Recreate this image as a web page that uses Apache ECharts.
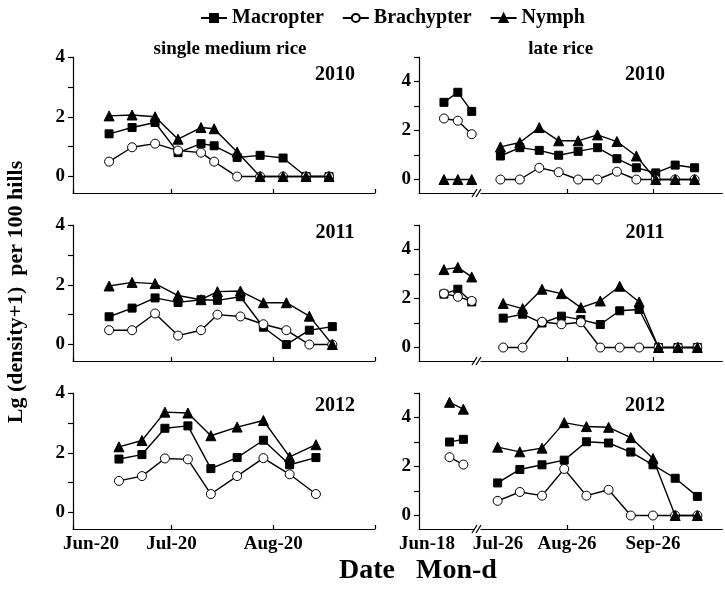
<!DOCTYPE html>
<html><head><meta charset="utf-8">
<script src="https://cdn.jsdelivr.net/npm/echarts@6/dist/echarts.min.js"></script>
<style>html,body{margin:0;padding:0;background:#fff}#c{width:725px;height:595px}</style>
</head><body><div id="c"></div>
<script>
// ---------------- DATA ----------------
const seriesNames = ['Macropter', 'Brachypter', 'Nymph'];
const years = ['2010', '2011', '2012'];
const panelTitles = ['single medium rice', 'late rice'];
const yAxisTitle = 'Lg (density+1)  per 100 hills';
const xAxisTitle = 'Date   Mon-d';

// single medium rice
const smDates2010 = ['07-01','07-08','07-15','07-22','07-29','08-02','08-09','08-16','08-23','08-30','09-06'];
const smMacropter2010 = [1.43,1.64,1.81,0.80,1.10,1.03,0.64,0.71,0.62,0,0];
const smBrachypter2010 = [0.50,0.98,1.10,0.87,0.80,0.50,0,0,0,0,0];
const smNymph2010 = [2.03,2.06,2.00,1.25,1.64,1.60,0.82,0,0,0,0];

const smDates2011 = ['07-01','07-08','07-15','07-22','07-29','08-03','08-10','08-17','08-24','08-31','09-07'];
const smMacropter2011 = [0.93,1.22,1.56,1.41,1.50,1.48,1.60,0.58,0,0.48,0.60];
const smBrachypter2011 = [0.48,0.48,1.04,0.30,0.48,1.00,0.94,0.68,0.48,0,0];
const smNymph2011 = [1.96,2.08,2.04,1.64,1.50,1.77,1.79,1.40,1.40,0.95,0];

const smDates2012 = ['07-04','07-11','07-18','07-25','08-01','08-09','08-17','08-25','09-02'];
const smMacropter2012 = [1.79,1.94,2.82,2.90,1.47,1.84,2.42,1.60,1.84];
const smBrachypter2012 = [1.06,1.22,1.81,1.78,0.62,1.22,1.82,1.28,0.62];
const smNymph2012 = [2.20,2.41,3.36,3.33,2.57,2.86,3.08,1.86,2.27];

// late rice, early segment (before axis break)
const lrEarlyDates2010 = ['06-27','07-02','07-07'];
const lrEarlyMacropter2010 = [3.15,3.56,2.78];
const lrEarlyBrachypter2010 = [2.49,2.40,1.85];
const lrEarlyNymph2010 = [0,0,0];

const lrEarlyDates2011 = ['06-27','07-02','07-07'];
const lrEarlyMacropter2011 = [2.18,2.38,1.86];
const lrEarlyBrachypter2011 = [2.20,2.07,1.90];
const lrEarlyNymph2011 = [3.18,3.27,2.88];

const lrEarlyDates2012 = ['06-29','07-04'];
const lrEarlyMacropter2012 = [3.00,3.11];
const lrEarlyBrachypter2012 = [2.38,2.08];
const lrEarlyNymph2012 = [4.62,4.34];

// late rice, main segment (after axis break)
const lrDates2010 = ['08-02','08-09','08-16','08-23','08-30','09-06','09-13','09-20','09-27','10-04','10-11'];
const lrMacropter2010 = [0.96,1.30,1.19,0.99,1.15,1.30,0.85,0.48,0.27,0.59,0.48];
const lrBrachypter2010 = [0,0,0.48,0.30,0,0,0.32,0,0,0,0];
const lrNymph2010 = [1.33,1.51,2.12,1.58,1.58,1.82,1.55,0.96,0,0,0];

const lrDates2011 = ['08-03','08-10','08-17','08-24','08-31','09-07','09-14','09-21','09-28','10-05','10-12'];
const lrMacropter2011 = [1.20,1.36,1.00,1.28,1.14,0.94,1.50,1.55,0,0,0];
const lrBrachypter2011 = [0,0,1.05,0.95,1.03,0,0,0,0,0,0];
const lrNymph2011 = [1.80,1.59,2.38,2.20,1.63,1.90,2.50,1.86,0,0,0];

const lrDates2012 = ['08-01','08-09','08-17','08-25','09-02','09-10','09-18','09-26','10-04','10-12'];
const lrMacropter2012 = [1.33,1.88,2.07,2.26,3.01,2.96,2.59,2.07,1.52,0.78];
const lrBrachypter2012 = [0.60,0.96,0.81,1.90,0.81,1.05,0,0,0,0];
const lrNymph2012 = [2.79,2.60,2.75,3.79,3.63,3.60,3.18,2.33,0,0];

// axis ranges and ticks
const smRange = ['06-20','09-20'];
const smTickDates = ['06-20','07-20','08-20','09-20'];
const smLabelDates = ['06-20','07-20','08-20'];
const lrEarlyRange = ['06-18','07-08'];
const lrEarlyLabelDates = ['06-18'];
const lrRange = ['07-26','10-21'];
const lrTickDates = ['08-26','09-26'];
const lrLabelDates = ['07-26','08-26','09-26'];
const smYRange = [-0.55, 4];
const lrYRange = [-0.55, 5];
const smYTicks = [0,1,2,3,4];
const lrYTicks = [0,1,2,3,4,5];
const yLabels = [0,2,4];

// ---------------- HELPERS ----------------
const monthNames = ['Jan','Feb','Mar','Apr','May','Jun','Jul','Aug','Sep','Oct','Nov','Dec'];
const cumDays = [0,31,59,90,120,151,181,212,243,273,304,334];
function doy(s) { const [m, d] = s.split('-').map(Number); return cumDays[m - 1] + d; }
function fmtDay(v) {
  let m = 11; while (m > 0 && cumDays[m] >= v) m--;
  return monthNames[m] + '-' + (v - cumDays[m]);
}
function pairs(dates, vals) { return dates.map((d, i) => [doy(d), vals[i]]); }

// ---------------- LAYOUT / STYLE ----------------
const FONT = "'Liberation Serif','Times New Roman',serif";
const panelTops = [57, 225, 393];
const panelH = 136;
const leftX = 73, leftW = 302;
const rightAX = 419;
const PXD = 2.774;
const rightAW = (doy(lrEarlyRange[1]) - doy(lrEarlyRange[0])) * PXD;
const rightBX = 481;
const rightBW = (doy(lrRange[1]) - doy(lrRange[0])) * PXD;
const labelShift = { 'Jun-20': 18, 'Jun-18': 8, 'Jul-26': 17 };
const richStyles = {};
Object.keys(labelShift).forEach((k, i) => {
  richStyles['s' + i] = { fontFamily: FONT, fontWeight: 'bold', fontSize: 19, color: '#000', padding: [0, 0, 0, 2 * labelShift[k]] };
});
function xLabelFmt(v) {
  const t = fmtDay(v);
  const keys = Object.keys(labelShift);
  const i = keys.indexOf(t);
  return i >= 0 ? '{s' + i + '|' + t + '}' : t;
}

const grids = [], xAxes = [], yAxes = [], series = [];
const lineCol = '#000';
const symbols = {
  Macropter: { symbol: 'rect', size: 8, item: { color: '#000', borderColor: '#000', borderWidth: 1 } },
  Brachypter: { symbol: 'circle', size: 9, item: { color: '#fff', borderColor: '#000', borderWidth: 1 } },
  Nymph: { symbol: 'triangle', size: 10, item: { color: '#000', borderColor: '#000', borderWidth: 1 } }
};

function addXAxis(gi, range, ticks, labels, showLabels) {
  xAxes.push({
    type: 'value', gridIndex: gi, min: doy(range[0]), max: doy(range[1]),
    axisLine: { show: true, onZero: false, lineStyle: { color: '#000', width: 1.2 } },
    axisTick: { show: true, inside: true, length: 4, customValues: ticks.map(doy), lineStyle: { color: '#000', width: 1.2 } },
    axisLabel: { show: showLabels, customValues: labels.map(doy), formatter: xLabelFmt, margin: 6,
      fontFamily: FONT, fontWeight: 'bold', fontSize: 19, color: '#000', rich: richStyles },
    splitLine: { show: false }
  });
}
function addYAxis(gi, range, ticks, show) {
  yAxes.push({
    type: 'value', gridIndex: gi, min: range[0], max: range[1], show: show,
    axisLine: { show: true, lineStyle: { color: '#000', width: 1.2 } },
    axisTick: { show: true, inside: false, length: 5, customValues: ticks, lineStyle: { color: '#000', width: 1.2 } },
    axisLabel: { show: true, customValues: yLabels, margin: 8, fontFamily: FONT, fontWeight: 'bold', fontSize: 19, color: '#000' },
    splitLine: { show: false }
  });
}
function addSeries(axisIdx, dates, vals) {
  seriesNames.forEach((n, k) => {
    const s = symbols[n];
    series.push({
      name: n, type: 'line', xAxisIndex: axisIdx, yAxisIndex: axisIdx,
      data: pairs(dates, vals[k]), symbol: s.symbol, symbolSize: s.size, showSymbol: true,
      lineStyle: { color: lineCol, width: 1.4 }, itemStyle: s.item, z: 2 + k
    });
  });
}

const smSets = [
  [smDates2010, [smMacropter2010, smBrachypter2010, smNymph2010]],
  [smDates2011, [smMacropter2011, smBrachypter2011, smNymph2011]],
  [smDates2012, [smMacropter2012, smBrachypter2012, smNymph2012]]
];
const lrEarlySets = [
  [lrEarlyDates2010, [lrEarlyMacropter2010, lrEarlyBrachypter2010, lrEarlyNymph2010]],
  [lrEarlyDates2011, [lrEarlyMacropter2011, lrEarlyBrachypter2011, lrEarlyNymph2011]],
  [lrEarlyDates2012, [lrEarlyMacropter2012, lrEarlyBrachypter2012, lrEarlyNymph2012]]
];
const lrSets = [
  [lrDates2010, [lrMacropter2010, lrBrachypter2010, lrNymph2010]],
  [lrDates2011, [lrMacropter2011, lrBrachypter2011, lrNymph2011]],
  [lrDates2012, [lrMacropter2012, lrBrachypter2012, lrNymph2012]]
];

// left panels: axes 0-2
for (let p = 0; p < 3; p++) {
  grids.push({ left: leftX, top: panelTops[p], width: leftW, height: panelH });
  addXAxis(p, smRange, smTickDates, smLabelDates, p === 2);
  addYAxis(p, smYRange, smYTicks, true);
}
// right early: axes 3-5
for (let p = 0; p < 3; p++) {
  grids.push({ left: rightAX, top: panelTops[p], width: rightAW, height: panelH });
  addXAxis(3 + p, lrEarlyRange, [], lrEarlyLabelDates, p === 2);
  addYAxis(3 + p, lrYRange, lrYTicks, true);
}
// right main: axes 6-8
for (let p = 0; p < 3; p++) {
  grids.push({ left: rightBX, top: panelTops[p], width: rightBW, height: panelH });
  addXAxis(6 + p, lrRange, lrTickDates, lrLabelDates, p === 2);
  addYAxis(6 + p, lrYRange, lrYTicks, false);
}
for (let p = 0; p < 3; p++) addSeries(p, smSets[p][0], smSets[p][1]);
for (let p = 0; p < 3; p++) addSeries(3 + p, lrEarlySets[p][0], lrEarlySets[p][1]);
for (let p = 0; p < 3; p++) addSeries(6 + p, lrSets[p][0], lrSets[p][1]);

// text & decorations
const graphics = [];
function txt(x, y, text, size, rot) {
  graphics.push({ type: 'text', x: x, y: y, rotation: rot || 0, z: 10,
    style: { text: text, fill: '#000', font: 'bold ' + size + 'px ' + FONT, textAlign: 'center', textVerticalAlign: 'middle' } });
}
txt(leftX + leftW / 2 + 6, 49, panelTitles[0], 19);
txt(rightAX + (rightBX + rightBW - rightAX) / 2 - 10, 49, panelTitles[1], 19);
const yearDy = [18, 8, 13];
for (let p = 0; p < 3; p++) {
  txt(335, panelTops[p] + yearDy[p], years[p], 20);
  txt(645, panelTops[p] + yearDy[p], years[p], 20);
  const by = panelTops[p] + panelH;
  [472, 476].forEach(x0 => graphics.push({ type: 'line', z: 10,
    shape: { x1: x0, y1: by + 4, x2: x0 + 5, y2: by - 4 }, style: { stroke: '#000', lineWidth: 1.2 } }));
}
txt(16, 292, yAxisTitle, 22, Math.PI / 2);
txt(418, 571, xAxisTitle, 28);

const chart = echarts.init(document.getElementById('c'));
chart.setOption({
  animation: false,
  backgroundColor: '#fff',
  legend: {
    data: seriesNames, left: 195, top: 3, itemGap: 18, itemWidth: 26, itemHeight: 10,
    textStyle: { fontFamily: FONT, fontWeight: 'bold', fontSize: 20, color: '#000' }
  },
  grid: grids, xAxis: xAxes, yAxis: yAxes, series: series, graphic: graphics
});
</script>
</body></html>
